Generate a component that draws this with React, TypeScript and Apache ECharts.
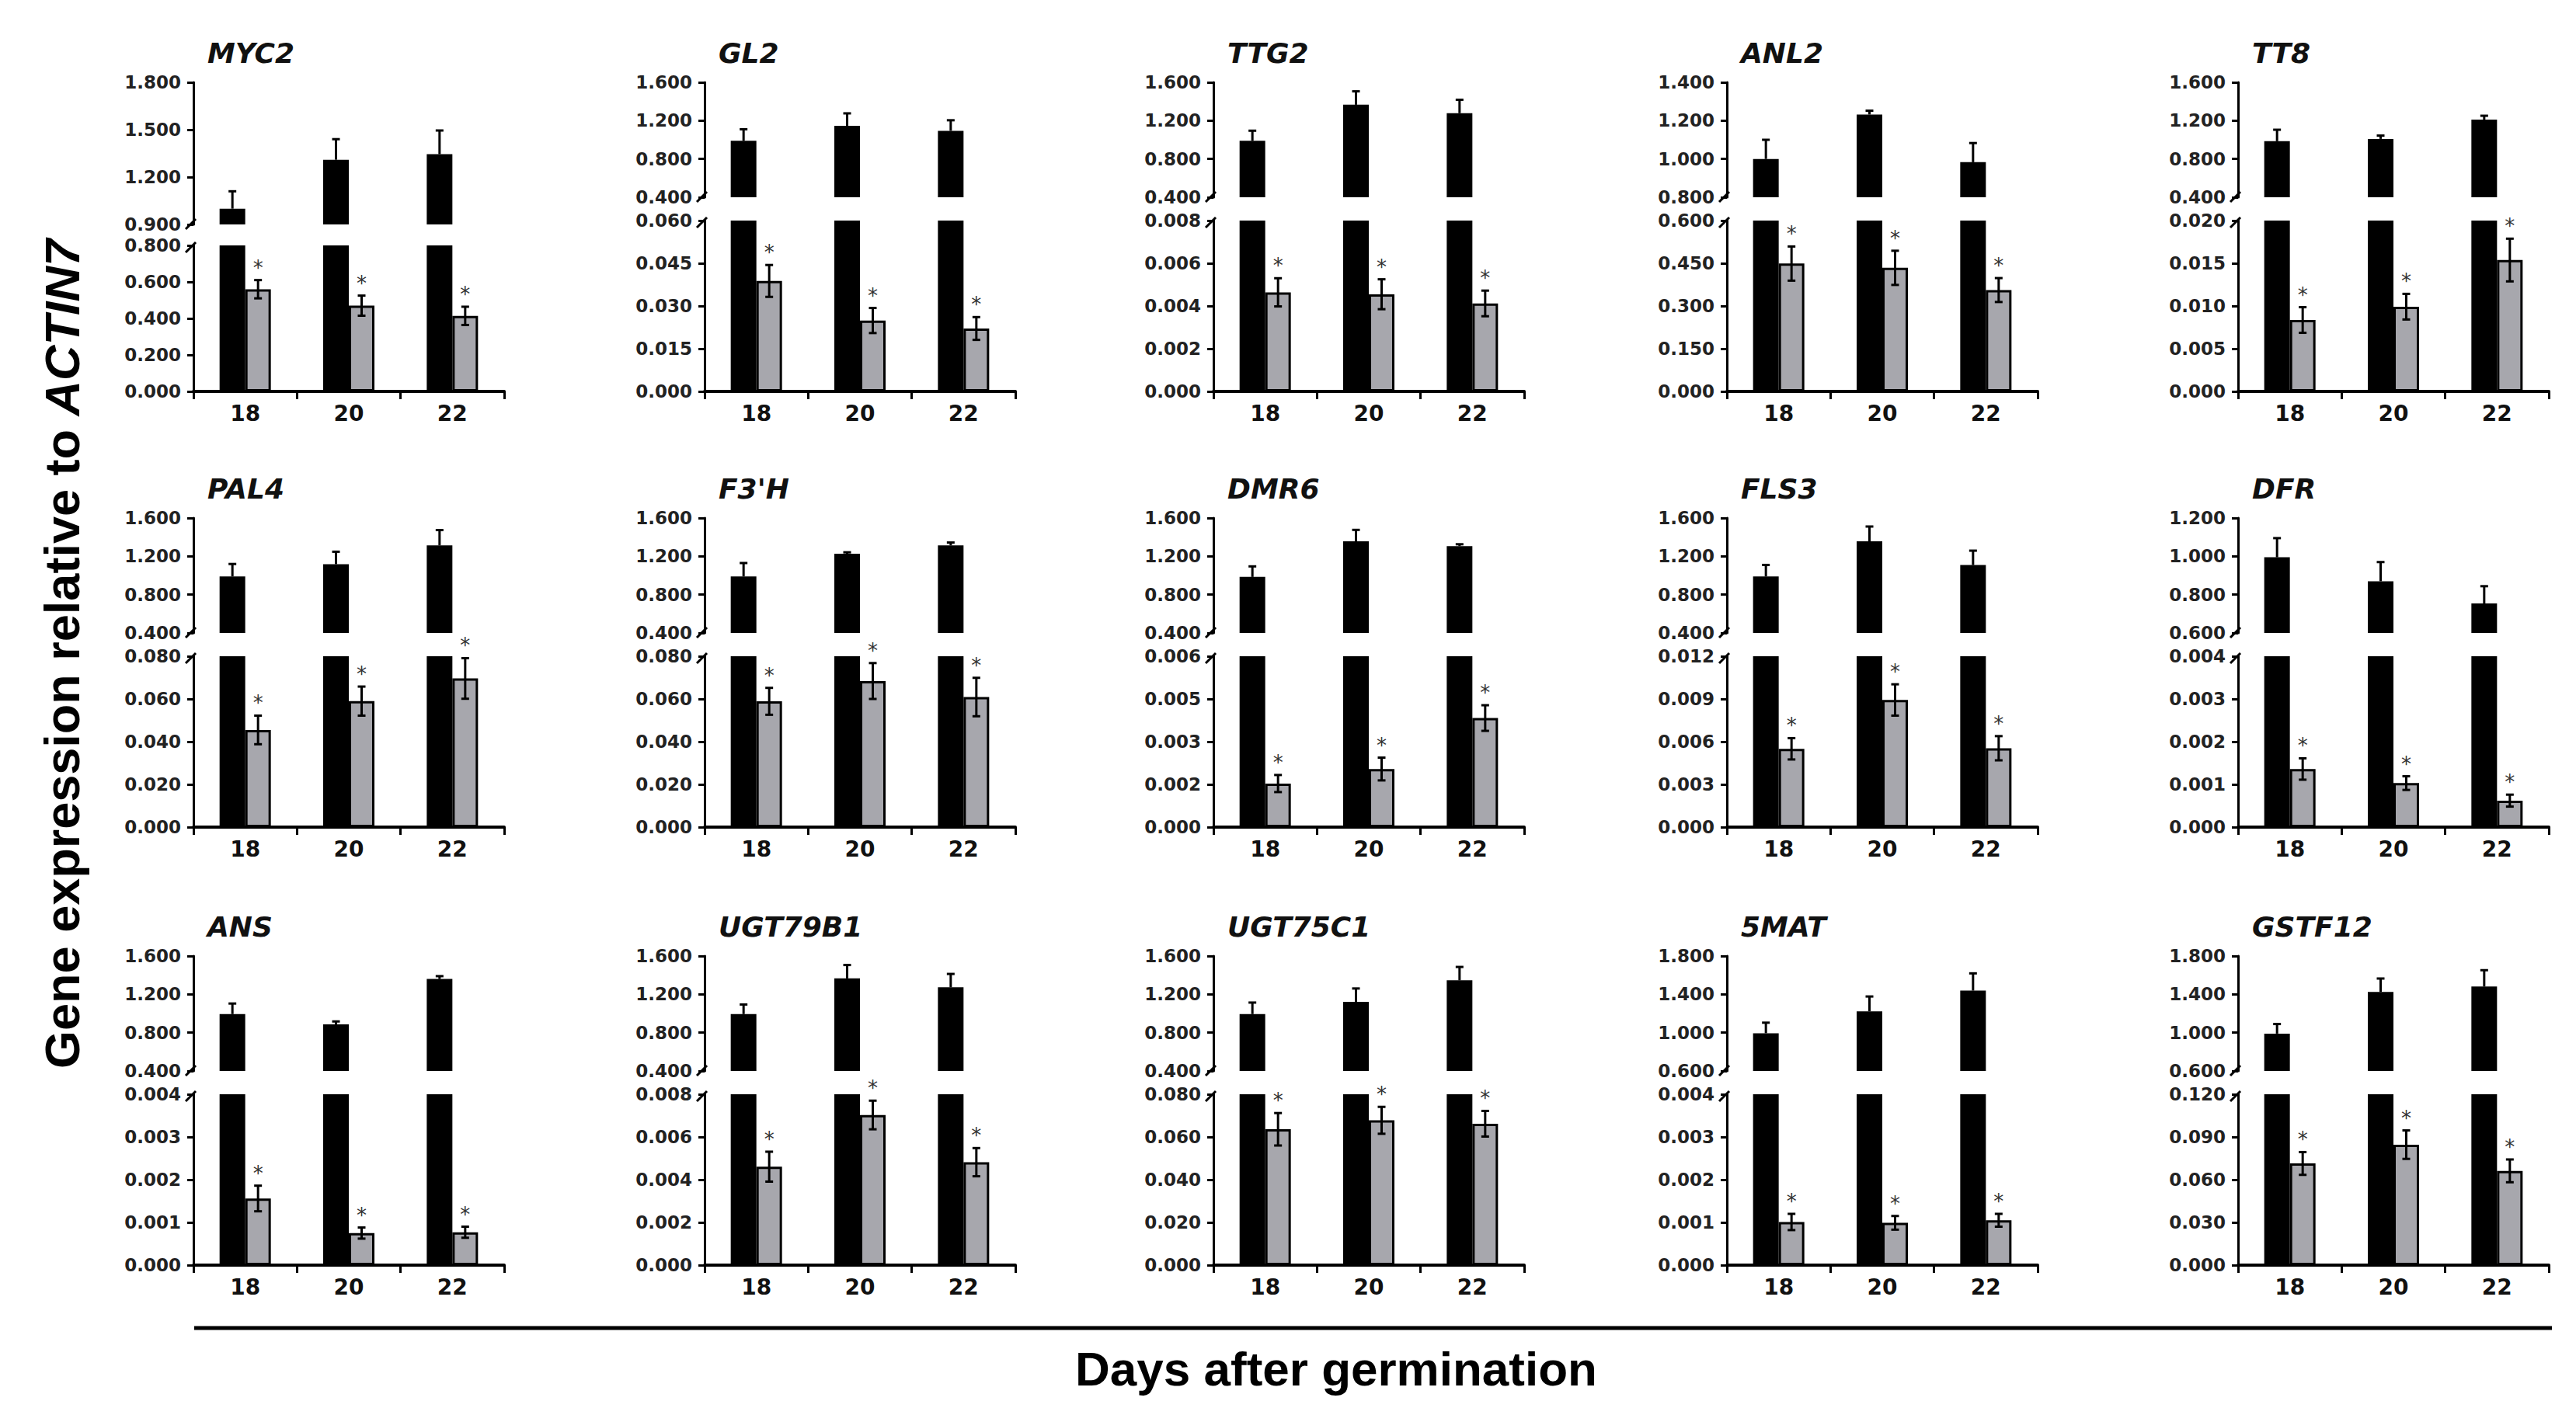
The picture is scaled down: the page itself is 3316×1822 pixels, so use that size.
import React, { useEffect, useRef } from 'react';
import * as echarts from 'echarts';

const genes = ['MYC2', 'GL2', 'TTG2', 'ANL2', 'TT8', 'PAL4', "F3'H", 'DMR6', 'FLS3', 'DFR', 'ANS', 'UGT79B1', 'UGT75C1', '5MAT', 'GSTF12'];
const days = ['18', '20', '22'];

const upperMin = [0.9, 0.4, 0.4, 0.8, 0.4, 0.4, 0.4, 0.4, 0.4, 0.6, 0.4, 0.4, 0.4, 0.6, 0.6];
const upperMax = [1.8, 1.6, 1.6, 1.4, 1.6, 1.6, 1.6, 1.6, 1.6, 1.2, 1.6, 1.6, 1.6, 1.8, 1.8];
const lowerMax = [0.8, 0.06, 0.008, 0.6, 0.02, 0.08, 0.08, 0.006, 0.012, 0.004, 0.004, 0.008, 0.08, 0.004, 0.12];

const controlMean = [
  [1.0, 1.31, 1.345],
  [0.99, 1.146, 1.094],
  [0.99, 1.366, 1.278],
  [1.0, 1.232, 0.983],
  [0.985, 1.009, 1.211],
  [0.99, 1.118, 1.314],
  [0.99, 1.227, 1.314],
  [0.985, 1.356, 1.306],
  [0.99, 1.356, 1.109],
  [0.995, 0.87, 0.754],
  [0.994, 0.887, 1.36],
  [0.994, 1.366, 1.273],
  [0.994, 1.121, 1.346],
  [0.994, 1.2225, 1.439],
  [0.99, 1.425, 1.482],
];
const controlErr = [
  [0.11, 0.13, 0.15],
  [0.12, 0.13, 0.11],
  [0.105, 0.14, 0.14],
  [0.1, 0.02, 0.1],
  [0.12, 0.035, 0.04],
  [0.13, 0.13, 0.16],
  [0.14, 0.015, 0.03],
  [0.11, 0.12, 0.02],
  [0.12, 0.155, 0.15],
  [0.1, 0.1, 0.09],
  [0.11, 0.03, 0.03],
  [0.1, 0.14, 0.14],
  [0.12, 0.14, 0.14],
  [0.11, 0.155, 0.18],
  [0.1, 0.14, 0.17],
];
const treatedMean = [
  [0.56, 0.47, 0.414],
  [0.0388, 0.0249, 0.0221],
  [0.00464, 0.00455, 0.00412],
  [0.449, 0.434, 0.356],
  [0.00836, 0.00992, 0.01538],
  [0.0455, 0.059, 0.0696],
  [0.0589, 0.0684, 0.0609],
  [0.00153, 0.00204, 0.00383],
  [0.0055, 0.00893, 0.00554],
  [0.00136, 0.00103, 0.00062],
  [0.00156, 0.00075, 0.00077],
  [0.00461, 0.00703, 0.00482],
  [0.0636, 0.0678, 0.0662],
  [0.00101, 0.00099, 0.00105],
  [0.0714, 0.0846, 0.0662],
];
const treatedErr = [
  [0.05, 0.055, 0.05],
  [0.0056, 0.0044, 0.004],
  [0.00066, 0.0007, 0.0006],
  [0.06, 0.06, 0.042],
  [0.0015, 0.0015, 0.0025],
  [0.0067, 0.0068, 0.0095],
  [0.0063, 0.0084, 0.009],
  [0.0003, 0.0004, 0.00045],
  [0.00075, 0.0011, 0.00085],
  [0.00025, 0.00016, 0.00014],
  [0.0003, 0.00013, 0.00013],
  [0.0007, 0.00067, 0.00066],
  [0.0076, 0.0063, 0.006],
  [0.00019, 0.00016, 0.00015],
  [0.008, 0.01, 0.008],
];

const W = 3316;
const H = 1822;
const colLeft = [249, 907, 1562, 2223, 2881];
const rowTop = [106, 667, 1231];
const PW = 400;
const BAR_W = 33;
const GRAY = '#a7a7ad';
const TICK_FONT = 'DejaVu Sans';
const LABEL_FONT = 'Liberation Sans';

function tickValues(min: number, max: number, n: number): number[] {
  const out: number[] = [];
  for (let i = 0; i <= n; i++) out.push(Number((min + ((max - min) * i) / n).toFixed(6)));
  return out;
}
const fmt = (v: number) => (v + 1e-9).toFixed(3);

function errRender(side: number, both: boolean, star: boolean) {
  return (params: any, api: any) => {
    const i = api.value(0);
    const v = api.value(1);
    const e = api.value(2);
    const x = api.coord([i, v])[0] + (side * BAR_W) / 2;
    const yMid = api.coord([i, v])[1];
    const yTop = api.coord([i, v + e])[1];
    const yBot = both ? api.coord([i, v - e])[1] : yMid;
    const ls = { stroke: '#000', lineWidth: 3 };
    const children: any[] = [
      { type: 'line', shape: { x1: x, y1: yTop, x2: x, y2: yBot }, style: ls },
      { type: 'line', shape: { x1: x - 5, y1: yTop, x2: x + 5, y2: yTop }, style: ls },
    ];
    if (both) children.push({ type: 'line', shape: { x1: x - 5, y1: yBot, x2: x + 5, y2: yBot }, style: ls });
    if (star) {
      children.push({
        type: 'text',
        style: {
          text: '*', x, y: yTop - 16, align: 'center', verticalAlign: 'middle',
          textAlign: 'center', textVerticalAlign: 'middle',
          fontSize: 26, fontFamily: TICK_FONT, fill: '#333',
        },
      });
    }
    return { type: 'group', children };
  };
}

function buildOption() {
  const grid: any[] = [];
  const xAxis: any[] = [];
  const yAxis: any[] = [];
  const series: any[] = [];
  const graphic: any[] = [];

  genes.forEach((gene, p) => {
    const col = p % 5;
    const row = Math.floor(p / 5);
    const ax = colLeft[col];
    const T = rowTop[row];
    const upH = p === 0 ? 183 : 148;
    const loTop = p === 0 ? 210 : 178;
    const loBot = 398;

    grid.push({ left: ax, top: T, width: PW, height: upH, containLabel: false });
    grid.push({ left: ax, top: T + loTop, width: PW, height: loBot - loTop, containLabel: false });

    const gu = 2 * p;
    const gl = 2 * p + 1;

    xAxis.push({ type: 'category', gridIndex: gu, data: days, show: false });
    xAxis.push({
      type: 'category', gridIndex: gl, data: days,
      axisLine: { show: true, lineStyle: { color: '#000', width: 4 } },
      axisTick: { show: true, length: 10, lineStyle: { color: '#000', width: 3 } },
      axisLabel: { margin: 14, fontSize: 28, fontWeight: 'bold', fontFamily: TICK_FONT, color: '#111' },
      splitLine: { show: false },
    });

    const upTicks = tickValues(upperMin[p], upperMax[p], 3);
    const loTicks = tickValues(0, lowerMax[p], 4);
    const yCommon = {
      type: 'value',
      axisLine: { show: true, lineStyle: { color: '#000', width: 3 } },
      splitLine: { show: false },
    };
    yAxis.push({
      ...yCommon, gridIndex: gu, min: upperMin[p], max: upperMax[p],
      axisTick: { show: true, length: 8, lineStyle: { color: '#000', width: 3 }, customValues: upTicks },
      axisLabel: { margin: 16, fontSize: 23, fontWeight: 'bold', fontFamily: TICK_FONT, color: '#222', customValues: upTicks, formatter: fmt },
    });
    yAxis.push({
      ...yCommon, gridIndex: gl, min: 0, max: lowerMax[p],
      axisTick: { show: true, length: 8, lineStyle: { color: '#000', width: 3 }, customValues: loTicks },
      axisLabel: { margin: 16, fontSize: 23, fontWeight: 'bold', fontFamily: TICK_FONT, color: '#222', customValues: loTicks, formatter: fmt },
    });

    [gu, gl].forEach((g) => {
      series.push({
        type: 'bar', xAxisIndex: g, yAxisIndex: g, data: controlMean[p],
        barWidth: BAR_W, barGap: '0%', clip: true,
        itemStyle: { color: '#000' },
      });
      series.push({
        type: 'bar', xAxisIndex: g, yAxisIndex: g, data: treatedMean[p],
        barWidth: BAR_W, barGap: '0%', clip: true,
        itemStyle: { color: GRAY, borderColor: '#000', borderWidth: 3 },
      });
    });

    series.push({
      type: 'custom', xAxisIndex: gu, yAxisIndex: gu, z: 5,
      encode: { x: 0, y: 1 },
      data: controlMean[p].map((v, i) => [i, v, controlErr[p][i]]),
      renderItem: errRender(-1, false, false),
    });
    series.push({
      type: 'custom', xAxisIndex: gl, yAxisIndex: gl, z: 5,
      encode: { x: 0, y: 1 },
      data: treatedMean[p].map((v, i) => [i, v, treatedErr[p][i]]),
      renderItem: errRender(1, true, true),
    });

    graphic.push({
      type: 'text', left: ax + 18, top: T - 56,
      style: {
        text: gene, fontSize: 36, fontWeight: 'bold', fontStyle: 'italic',
        fontFamily: TICK_FONT, fill: '#111',
      },
    });
    const yb = T + upH;
    const yt = T + loTop;
    graphic.push({
      type: 'line', shape: { x1: ax - 10, y1: yb + 6, x2: ax + 3, y2: yb - 7 },
      style: { stroke: '#000', lineWidth: 3 }, z: 10,
    });
    graphic.push({
      type: 'line', shape: { x1: ax - 10, y1: yt + 9, x2: ax + 3, y2: yt - 4 },
      style: { stroke: '#000', lineWidth: 3 }, z: 10,
    });
  });

  graphic.push({
    type: 'line', shape: { x1: 250, y1: 1710, x2: 3285, y2: 1710 },
    style: { stroke: '#000', lineWidth: 5 },
  });
  graphic.push({
    type: 'text', x: 1720, y: 1762,
    style: {
      text: 'Days after germination', x: 0, y: 0,
      align: 'center', verticalAlign: 'middle', textAlign: 'center', textVerticalAlign: 'middle',
      fontSize: 62, fontWeight: 'bold', fontFamily: LABEL_FONT, fill: '#000',
    },
  });
  graphic.push({
    type: 'text', x: 80, y: 842, rotation: Math.PI / 2,
    style: {
      text: '{a|Gene expression relative to }{b|ACTIN7}', x: 0, y: 0,
      align: 'center', verticalAlign: 'middle', textAlign: 'center', textVerticalAlign: 'middle',
      fill: '#000',
      rich: {
        a: { fontSize: 63, fontWeight: 'bold', fontFamily: LABEL_FONT, fill: '#000' },
        b: { fontSize: 63, fontWeight: 'bold', fontStyle: 'italic', fontFamily: LABEL_FONT, fill: '#000' },
      },
    },
  });

  return {
    animation: false,
    backgroundColor: '#fff',
    grid, xAxis, yAxis, series, graphic,
  };
}

export default function App() {
  const ref = useRef<HTMLDivElement>(null);
  useEffect(() => {
    document.body.style.margin = '0';
    document.body.style.overflow = 'hidden';
    if (!ref.current) return;
    const chart = echarts.init(ref.current, undefined, { renderer: 'svg', width: W, height: H });
    chart.setOption(buildOption() as any);
    return () => chart.dispose();
  }, []);
  return <div ref={ref} style={{ width: W, height: H }} />;
}
